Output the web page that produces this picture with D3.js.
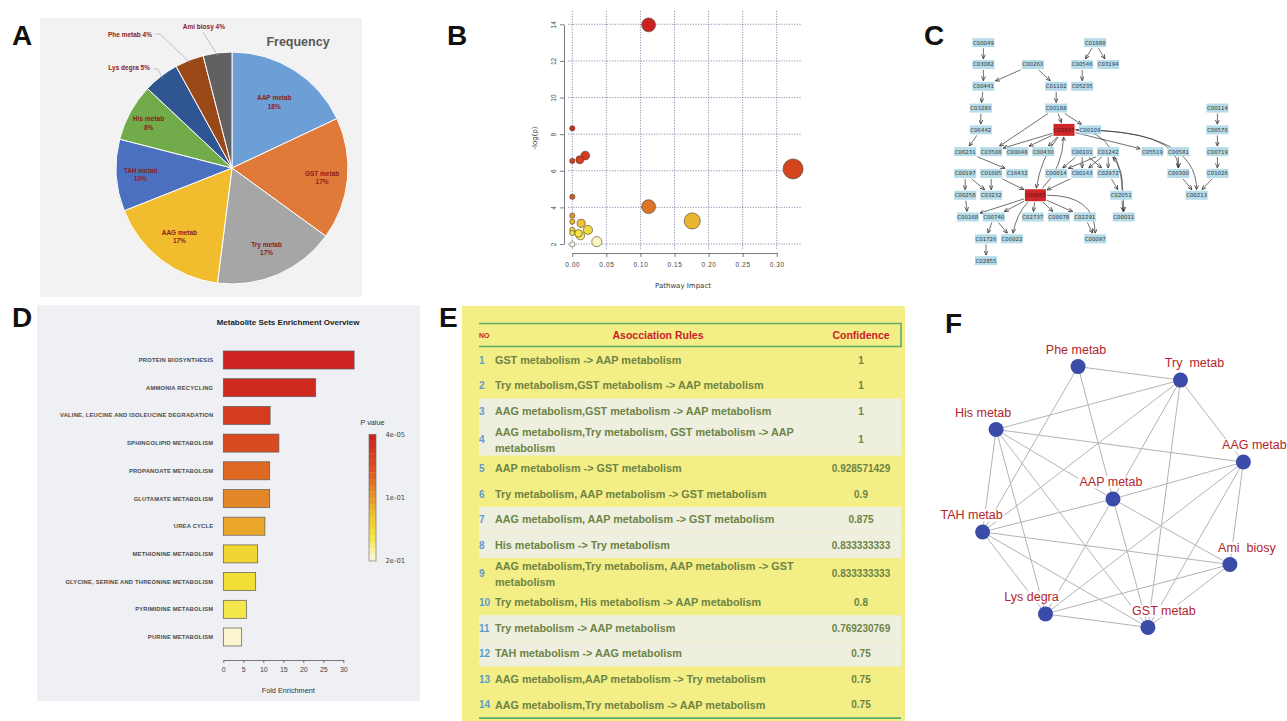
<!DOCTYPE html>
<html>
<head>
<meta charset="utf-8">
<script src="https://cdnjs.cloudflare.com/ajax/libs/d3/7.8.5/d3.min.js"></script>
<style>
  body { margin: 0; background: #fff; }
  svg { display: block; font-family: "Liberation Sans", Arial, sans-serif; }
</style>
</head>
<body>
<svg id="fig" width="1287" height="721"></svg>
<script>
// ---------------- data ----------------
// A: frequency pie
var pieLabels = ["AAP metab", "GST metab", "Try metab", "AAG metab", "TAH metab", "His metab", "Lys degra", "Phe metab", "Ami biosy"];
var piePercents = [18, 17, 17, 17, 10, 8, 5, 4, 4];

// B: pathway impact vs -log(p)
var pathImpact = [0.112, 0, 0, 0.011, 0.019, 0.324, 0, 0.112, 0.176, 0, 0, 0.013, 0, 0, 0.009, 0.023, 0.012, 0.036, 0];
var negLogP    = [13.97, 8.32, 6.54, 6.6, 6.83, 6.1, 4.58, 4.04, 3.26, 3.55, 3.22, 3.13, 2.77, 2.6, 2.58, 2.77, 2.45, 2.13, 1.98];
var bYTicks = [2, 4, 6, 8, 10, 12, 14];
var bXTicks = [0, 0.05, 0.10, 0.15, 0.20, 0.25, 0.30];

// C: compound network (layout units: col 0-100, row 0-10)
var cNodes = [
  ["C00049", 9, 0], ["C01888", 52, 0],
  ["C03082", 9, 1], ["C00263", 28, 1], ["C00546", 47, 1], ["C03194", 57, 1],
  ["C00441", 9, 2], ["C01102", 37, 2], ["C05235", 47, 2],
  ["C03283", 8, 3], ["C00188", 37, 3], ["C00114", 99, 3],
  ["C06442", 8, 4], ["C00037", 40, 4], ["C00109", 50, 4], ["C00576", 99, 4],
  ["C06231", 2, 5], ["C03508", 12, 5], ["C00048", 22, 5], ["C00430", 32, 5], ["C00101", 47, 5],
  ["C01242", 57, 5], ["C05519", 74, 5], ["C00581", 84, 5], ["C00719", 99, 5],
  ["C00197", 2, 6], ["C01005", 12, 6], ["C16432", 22, 6], ["C00014", 37, 6], ["C00143", 47, 6],
  ["C02972", 57, 6], ["C00300", 84, 6], ["C01026", 99, 6],
  ["C00258", 2, 7], ["C03232", 12, 7], ["C00065", 29, 7], ["C02051", 62, 7], ["C00213", 91, 7],
  ["C00168", 3, 8], ["C00740", 13, 8], ["C02737", 28, 8], ["C00078", 38, 8], ["C02291", 48, 8], ["C00011", 63, 8],
  ["C01726", 10, 9], ["C00022", 20, 9], ["C00097", 52, 9],
  ["C02855", 10, 10]
];
var cHighlighted = ["C00037", "C00065"];
// third field: curve ("e" = elbow curve, number = slight bend)
var cEdges = [
  ["C00049", "C03082"], ["C03082", "C00441"], ["C00263", "C00441"], ["C00263", "C01102"],
  ["C01888", "C00546"], ["C01888", "C03194"], ["C00546", "C05235"], ["C00441", "C03283"],
  ["C01102", "C00188"], ["C03283", "C06442"], ["C00188", "C00037"], ["C00188", "C00109"],
  ["C00188", "C03508"], ["C06442", "C06231"], ["C00037", "C03508"], ["C00037", "C00048"],
  ["C00037", "C00430"], ["C00037", "C05519"], ["C00037", "C00213", "e"], ["C00037", "C00011", "e"],
  ["C00037", "C00300", "e"],
  ["C00037", "C00065", 10], ["C00065", "C00037", 14], ["C06231", "C16432"],
  ["C00101", "C00014"], ["C00101", "C00143"], ["C00101", "C02972"],
  ["C01242", "C00014"], ["C01242", "C00143"], ["C01242", "C02972"],
  ["C00114", "C00576"], ["C00576", "C00719"], ["C00719", "C01026"], ["C00581", "C00300"],
  ["C00300", "C00213"], ["C01026", "C00213"],
  ["C00197", "C00258"], ["C00197", "C03232"], ["C01005", "C03232"], ["C01005", "C00065"],
  ["C00143", "C00065"], ["C02972", "C02051"], ["C02051", "C00011"], ["C02051", "C01242", 10],
  ["C00258", "C00168"], ["C00065", "C00168"], ["C00065", "C00740"], ["C00065", "C00022", 8],
  ["C00065", "C02737"], ["C00065", "C00078"], ["C00065", "C02291"], ["C00065", "C00097", "e"],
  ["C00740", "C01726"], ["C00740", "C00022"], ["C02291", "C00097"], ["C01726", "C02855"]
];

// D: metabolite set enrichment
var setNames = ["PROTEIN BIOSYNTHESIS", "AMMONIA RECYCLING", "VALINE, LEUCINE AND ISOLEUCINE DEGRADATION",
  "SPHINGOLIPID METABOLISM", "PROPANOATE METABOLISM", "GLUTAMATE METABOLISM", "UREA CYCLE",
  "METHIONINE METABOLISM", "GLYCINE, SERINE AND THREONINE METABOLISM", "PYRIMIDINE METABOLISM", "PURINE METABOLISM"];
var foldEnrichment = [32.7, 23.1, 11.7, 13.9, 11.6, 11.6, 10.4, 8.6, 8.1, 5.8, 4.6];
var setPValues = [0.003, 0.01, 0.03, 0.045, 0.07, 0.09, 0.11, 0.145, 0.155, 0.165, 0.195];
var dXTicks = [0, 5, 10, 15, 20, 25, 30];
var legendTicks = [[0.00004, "4e-05"], [0.1, "1e-01"], [0.2, "2e-01"]];

// E: association rules
var ruleTexts = [
  "GST metabolism -> AAP metabolism",
  "Try metabolism,GST metabolism -> AAP metabolism",
  "AAG metabolism,GST metabolism -> AAP metabolism",
  "AAG metabolism,Try metabolism, GST metabolism -> AAP metabolism",
  "AAP metabolism -> GST metabolism",
  "Try metabolism, AAP metabolism -> GST metabolism",
  "AAG metabolism, AAP metabolism -> GST metabolism",
  "His metabolism -> Try metabolism",
  "AAG metabolism,Try metabolism, AAP metabolism -> GST metabolism",
  "Try metabolism, His metabolism -> AAP metabolism",
  "Try metabolism -> AAP metabolism",
  "TAH metabolism -> AAG metabolism",
  "AAG metabolism,AAP metabolism -> Try metabolism",
  "AAG metabolism,Try metabolism -> AAP metabolism"
];
var ruleConfidence = ["1", "1", "1", "1", "0.928571429", "0.9", "0.875", "0.833333333", "0.833333333",
  "0.8", "0.769230769", "0.75", "0.75", "0.75"];

// F: metabolism association network
var ringNodes = ["Phe metab", "Try  metab", "AAG metab", "Ami  biosy", "GST metab", "Lys degra", "TAH metab", "His metab"];
var hubNode = "AAP metab";
var netEdges = [
  ["Phe metab", "Try  metab"], ["Phe metab", "TAH metab"], ["Phe metab", "AAP metab"],
  ["Try  metab", "His metab"], ["Try  metab", "TAH metab"], ["Try  metab", "AAP metab"],
  ["Try  metab", "GST metab"], ["Try  metab", "AAG metab"],
  ["His metab", "AAG metab"], ["His metab", "AAP metab"], ["His metab", "TAH metab"],
  ["His metab", "Lys degra"], ["His metab", "GST metab"],
  ["AAG metab", "AAP metab"], ["AAG metab", "Lys degra"], ["AAG metab", "GST metab"], ["AAG metab", "Ami  biosy"],
  ["AAP metab", "TAH metab"], ["AAP metab", "Lys degra"], ["AAP metab", "GST metab"], ["AAP metab", "Ami  biosy"],
  ["TAH metab", "Ami  biosy"], ["TAH metab", "Lys degra"], ["TAH metab", "GST metab"],
  ["Lys degra", "Ami  biosy"], ["Lys degra", "GST metab"], ["Ami  biosy", "GST metab"]
];

// ---------------- drawing ----------------
var svg = d3.select("#fig");
var defs = svg.append("defs");

// panel letters
[["A", 12, 45], ["B", 447, 45], ["C", 924, 45], ["D", 12, 327], ["E", 439, 327], ["F", 945, 333]].forEach(function(p) {
  svg.append("text").attr("x", p[1]).attr("y", p[2]).text(p[0])
    .attr("font-size", 28).attr("font-weight", "bold").attr("fill", "#111");
});

// ===== A: pie =====
(function() {
  var g = svg.append("g");
  g.append("rect").attr("x", 40).attr("y", 18).attr("width", 322).attr("height", 279).attr("fill", "#f2f2f2");
  var pieColors = ["#6d9fd7", "#e07a38", "#a6a6a6", "#f1bd2e", "#4b70c0", "#72ab4a", "#2f5693", "#9b4818", "#616161"];
  var cx = 232, cy = 168, r = 116;
  var arcs = d3.pie().sort(null).value(function(d) { return d; })(piePercents);
  var arc = d3.arc().innerRadius(0).outerRadius(r);
  var pg = g.append("g").attr("transform", "translate(" + cx + "," + cy + ")");
  pg.selectAll("path").data(arcs).enter().append("path")
    .attr("d", arc).attr("fill", function(d, i) { return pieColors[i]; })
    .attr("stroke", "#fff").attr("stroke-width", 1);

  var labelFactor = [0.68, 0.78, 0.75, 0.74, 0.79, 0.82];
  // outside label anchors (relative to pie centre) and leader elbows
  var outside = { 6: { at: [-82, -100], elbow: [-74, -99] },
                  7: { at: [-80, -133], elbow: [-72, -134] },
                  8: { at: [-7, -141], elbow: [-29, -136] } };
  arcs.forEach(function(d, i) {
    if (i < 6) {
      var lr = r * labelFactor[i];
      var c = d3.arc().innerRadius(lr).outerRadius(lr).centroid(d);
      var t = pg.append("text").attr("text-anchor", "middle").attr("fill", "#8e1b1b")
        .attr("font-size", 6.5).attr("font-weight", "bold");
      t.append("tspan").attr("x", c[0]).attr("y", c[1] - 1).text(pieLabels[i]);
      t.append("tspan").attr("x", c[0]).attr("y", c[1] + 7.5).text(d.data + "%");
    } else {
      var o = outside[i];
      var edge = d3.arc().innerRadius(r - 3).outerRadius(r - 3).centroid(d);
      var pts = i === 8 ? [o.elbow, edge] : [[o.at[0] + 3, o.elbow[1]], o.elbow, edge];
      pg.append("polyline").attr("points", pts.map(function(p) { return p.join(","); }).join(" "))
        .attr("fill", "none").attr("stroke", "#a0a0a0").attr("stroke-width", 0.6);
      pg.append("text").attr("x", o.at[0]).attr("y", o.at[1]).attr("text-anchor", "end")
        .attr("fill", "#8e1b1b").attr("font-size", 6.5).attr("font-weight", "bold")
        .attr("dy", "0.35em").text(pieLabels[i] + " " + d.data + "%");
    }
  });
  g.append("text").attr("x", 298).attr("y", 46).attr("text-anchor", "middle")
    .attr("font-size", 12.5).attr("font-weight", "bold").attr("fill", "#595959").text("Frequency");
})();

// ===== B: pathway impact scatter =====
(function() {
  var g = svg.append("g").attr("font-family", "'DejaVu Sans', sans-serif");
  var x = d3.scaleLinear().domain([0, 0.30]).range([572.3, 776.7]);
  var y = d3.scaleLinear().domain([2, 14]).range([244, 24.3]);
  var rScale = d3.scaleSqrt().domain([0, 0.324]).range([2.6, 10]);
  var col = d3.scaleLinear()
    .domain([1.98, 2.2, 2.6, 3.2, 3.6, 4.5, 6.2, 8, 14])
    .range(["#fffff2", "#f7f0a8", "#f3e244", "#ebbd30", "#e0902a", "#d8581f", "#d4441e", "#cf2a1e", "#cc1f1f"]);

  var grid = g.append("g").attr("stroke", "#5f6690").attr("stroke-width", 0.7).attr("stroke-dasharray", "1.2,1.4");
  bYTicks.forEach(function(v) { grid.append("line").attr("x1", 568).attr("x2", 802).attr("y1", y(v)).attr("y2", y(v)); });
  bXTicks.forEach(function(v) { grid.append("line").attr("x1", x(v)).attr("x2", x(v)).attr("y1", 11).attr("y2", 249); });

  var ya = g.append("g").attr("transform", "translate(564,0)")
    .call(d3.axisLeft(y).tickValues(bYTicks).tickSize(4).tickSizeOuter(0).tickFormat(d3.format("d")));
  ya.selectAll("text").attr("transform", "rotate(-90)").attr("x", 0).attr("y", -8).attr("dy", 0)
    .attr("text-anchor", "middle").attr("font-size", 6.5).attr("fill", "#444");
  var xa = g.append("g").attr("transform", "translate(0,253)")
    .call(d3.axisBottom(x).tickValues(bXTicks).tickSize(4).tickSizeOuter(0).tickFormat(d3.format(".2f")));
  xa.selectAll("text").attr("font-size", 6.5).attr("fill", "#444").attr("letter-spacing", 0.6).attr("y", 9);
  g.selectAll(".domain, .tick line").attr("stroke", "#444").attr("stroke-width", 0.7);

  g.append("text").attr("x", 683).attr("y", 288).attr("text-anchor", "middle").attr("font-size", 7).attr("fill", "#333").text("Pathway Impact");
  g.append("text").attr("transform", "translate(537,138) rotate(-90)").attr("text-anchor", "middle")
    .attr("font-size", 7).attr("fill", "#333").text("-log(p)");

  var pts = pathImpact.map(function(v, i) { return { x: v, y: negLogP[i] }; })
    .sort(function(a, b) { return rScale(b.x) - rScale(a.x); });
  g.selectAll("circle.pt").data(pts).enter().append("circle").attr("class", "pt")
    .attr("cx", function(d) { return x(d.x); }).attr("cy", function(d) { return y(d.y); })
    .attr("r", function(d) { return rScale(d.x); })
    .attr("fill", function(d) { return col(d.y); })
    .attr("stroke", "#4a3a30").attr("stroke-width", 0.6);
})();

// ===== C: compound network =====
(function() {
  var g = svg.append("g").attr("font-family", "'DejaVu Sans', sans-serif");
  var x = d3.scaleLinear().domain([0, 100]).range([960, 1220]);
  var y = d3.scaleLinear().domain([0, 10]).range([42.7, 260.6]);
  defs.append("marker").attr("id", "arrC").attr("viewBox", "0 -3 6 6").attr("refX", 6).attr("refY", 0)
    .attr("markerUnits", "userSpaceOnUse").attr("markerWidth", 4.5).attr("markerHeight", 4.5).attr("orient", "auto")
    .append("path").attr("d", "M0,-2.6L6,0L0,2.6").attr("fill", "none").attr("stroke", "#333").attr("stroke-width", 1);

  var pos = {};
  cNodes.forEach(function(n) {
    var hi = cHighlighted.indexOf(n[0]) >= 0;
    pos[n[0]] = { x: x(n[1]), y: y(n[2]), hw: hi ? 10.5 : 11, hh: hi ? 6 : 4.5 };
  });
  function clip(fx, fy, t) {
    var dx = fx - t.x, dy = fy - t.y;
    var s = Math.min((t.hw + 1) / Math.abs(dx || 1e-6), (t.hh + 1) / Math.abs(dy || 1e-6));
    return [t.x + dx * s, t.y + dy * s];
  }
  var eg = g.append("g").attr("fill", "none").attr("stroke", "#333").attr("stroke-width", 0.7);
  cEdges.forEach(function(e) {
    var s = pos[e[0]], t = pos[e[1]], bend = e[2] || 0;
    if (!bend) {
      var a = clip(t.x, t.y, s), b = clip(s.x, s.y, t);
      eg.append("line").attr("x1", a[0]).attr("y1", a[1]).attr("x2", b[0]).attr("y2", b[1]).attr("marker-end", "url(#arrC)");
    } else {
      var qx, qy;
      if (bend === "e") { qx = t.x; qy = s.y; }
      else {
        var dx = t.x - s.x, dy = t.y - s.y, len = Math.sqrt(dx * dx + dy * dy);
        qx = (s.x + t.x) / 2 + (-dy / len) * bend; qy = (s.y + t.y) / 2 + (dx / len) * bend;
      }
      var a2 = clip(qx, qy, s), b2 = clip(qx, qy, t);
      eg.append("path").attr("d", "M" + a2 + "Q" + qx + "," + qy + " " + b2).attr("marker-end", "url(#arrC)");
    }
  });
  var ng = g.selectAll("g.cn").data(cNodes).enter().append("g").attr("class", "cn")
    .attr("transform", function(d) { return "translate(" + pos[d[0]].x + "," + pos[d[0]].y + ")"; });
  ng.append("rect")
    .attr("x", function(d) { return -pos[d[0]].hw; }).attr("y", function(d) { return -pos[d[0]].hh; })
    .attr("width", function(d) { return pos[d[0]].hw * 2; }).attr("height", function(d) { return pos[d[0]].hh * 2; })
    .attr("fill", function(d) { return cHighlighted.indexOf(d[0]) >= 0 ? "#d0282a" : "#b6dbe9"; });
  ng.append("text").attr("text-anchor", "middle").attr("dy", "0.36em").attr("font-size", 5.4)
    .attr("fill", function(d) { return cHighlighted.indexOf(d[0]) >= 0 ? "#5a1010" : "#333"; })
    .text(function(d) { return d[0]; });
})();

// ===== D: enrichment bars =====
(function() {
  var g = svg.append("g");
  g.append("rect").attr("x", 37).attr("y", 305).attr("width", 383).attr("height", 396).attr("fill", "#eef0f4");
  var x = d3.scaleLinear().domain([0, 30]).range([223.3, 343.3]);
  var y = d3.scaleBand().domain(setNames).range([346.15, 650.85]).paddingInner(0.35).paddingOuter(0.175);
  var col = d3.scaleLinear().domain([0.00004, 0.06, 0.1, 0.13, 0.16, 0.2])
    .range(["#cc1f1f", "#dc5a20", "#e6962a", "#efc52e", "#f2e436", "#fdf9e4"]);

  g.append("text").attr("x", 288).attr("y", 324.5).attr("text-anchor", "middle").attr("font-size", 8)
    .attr("font-weight", "bold").attr("fill", "#222").text("Metabolite Sets Enrichment Overview");

  g.selectAll("rect.bar").data(setNames).enter().append("rect").attr("class", "bar")
    .attr("x", x(0)).attr("y", function(d) { return y(d); })
    .attr("width", function(d, i) { return x(foldEnrichment[i]) - x(0); })
    .attr("height", y.bandwidth())
    .attr("fill", function(d, i) { return col(setPValues[i]); })
    .attr("stroke", "#5a5a5a").attr("stroke-width", 0.7);
  g.selectAll("text.lab").data(setNames).enter().append("text").attr("class", "lab")
    .attr("x", 213.3).attr("y", function(d) { return y(d) + y.bandwidth() / 2; })
    .attr("dy", "0.35em").attr("text-anchor", "end").attr("font-size", 5.8).attr("font-weight", "bold")
    .attr("fill", "#4a4a4a").attr("letter-spacing", 0.2).text(function(d) { return d; });

  var xa = g.append("g").attr("transform", "translate(0,660)")
    .call(d3.axisBottom(x).tickValues(dXTicks).tickSize(3).tickSizeOuter(0));
  xa.selectAll("text").attr("font-size", 7).attr("fill", "#444").attr("y", 7);
  xa.selectAll(".domain, .tick line").attr("stroke", "#444").attr("stroke-width", 0.7);
  g.append("text").attr("x", 288.3).attr("y", 693).attr("text-anchor", "middle").attr("font-size", 7.3)
    .attr("fill", "#333").text("Fold Enrichment");

  // p-value legend
  var ly = d3.scaleLinear().domain([0.00004, 0.2]).range([434.3, 561]);
  var steps = d3.range(20).map(function(i) { return 0.00004 + (0.2 - 0.00004) * i / 20; });
  var stepH = (561 - 434.3) / 20;
  g.selectAll("rect.leg").data(steps).enter().append("rect").attr("class", "leg")
    .attr("x", 369).attr("y", function(d) { return ly(d); }).attr("width", 7).attr("height", stepH + 0.3)
    .attr("fill", function(d) { return col(d + (0.2 - 0.00004) / 40); });
  g.append("rect").attr("x", 369).attr("y", 434.3).attr("width", 7).attr("height", 126.7)
    .attr("fill", "none").attr("stroke", "#666").attr("stroke-width", 0.6);
  g.append("text").attr("x", 372.5).attr("y", 425).attr("text-anchor", "middle").attr("font-size", 7.3)
    .attr("fill", "#333").text("P value");
  legendTicks.forEach(function(t) {
    g.append("text").attr("x", 385.5).attr("y", ly(t[0])).attr("dy", "0.35em").attr("font-size", 6.8)
      .attr("font-family", "'DejaVu Sans', sans-serif").attr("fill", "#444").text(t[1]);
  });
})();

// ===== E: association rules table =====
(function() {
  var g = svg.append("g");
  g.append("rect").attr("x", 462).attr("y", 306).attr("width", 443).attr("height", 415).attr("fill", "#f4ee86");
  var left = 479, right = 901, top = 347.2, maxW = 320;
  var green = "#5aac6c";
  g.append("path").attr("d", "M" + left + ",323.5H" + right + "V346.5H" + left)
    .attr("fill", "none").attr("stroke", green).attr("stroke-width", 1.6);
  g.append("text").attr("x", 479).attr("y", 338).attr("font-size", 7).attr("font-weight", "bold").attr("fill", "#c8202c").text("NO");
  g.append("text").attr("x", 658).attr("y", 339).attr("text-anchor", "middle").attr("font-size", 10.5).attr("font-weight", "bold").attr("fill", "#c8202c").text("Asocciation Rules");
  g.append("text").attr("x", 861).attr("y", 339).attr("text-anchor", "middle").attr("font-size", 10.5).attr("font-weight", "bold").attr("fill", "#c8202c").text("Confidence");

  var bandG = g.append("g"), textG = g.append("g");
  var rowTop = top;
  ruleTexts.forEach(function(rule, i) {
    var t = textG.append("text").attr("font-size", 10.8).attr("font-weight", "bold").attr("fill", "#6c8444");
    var words = rule.split(" "), lines = [], cur = [];
    var probe = t.append("tspan");
    words.forEach(function(w) {
      var test = cur.concat([w]).join(" ");
      probe.text(test);
      if (probe.node().getComputedTextLength() > maxW && cur.length) { lines.push(cur.join(" ")); cur = [w]; }
      else cur.push(w);
    });
    lines.push(cur.join(" "));
    probe.remove();
    var h = lines.length > 1 ? 31.6 : 25.6;
    var mid = rowTop + h / 2;
    if (Math.floor(i / 2) % 2 === 1) {
      bandG.append("rect").attr("x", left).attr("y", rowTop).attr("width", right - left).attr("height", h).attr("fill", "#eeefdf");
    }
    lines.forEach(function(l, k) {
      t.append("tspan").attr("x", 495).attr("y", mid + (k - (lines.length - 1) / 2) * 16).attr("dy", "0.35em").text(l);
    });
    textG.append("text").attr("x", 479).attr("y", mid).attr("dy", "0.35em").attr("font-size", 10)
      .attr("font-weight", "bold").attr("fill", "#5f9bd0").text(i + 1);
    textG.append("text").attr("x", 861).attr("y", mid).attr("dy", "0.35em").attr("text-anchor", "middle")
      .attr("font-size", 10).attr("font-weight", "bold").attr("fill", "#6c8444").text(ruleConfidence[i]);
    rowTop += h;
  });
  g.append("line").attr("x1", left).attr("x2", right).attr("y1", rowTop + 0.5).attr("y2", rowTop + 0.5)
    .attr("stroke", green).attr("stroke-width", 1.6);
})();

// ===== F: metabolism network (circular layout around hub) =====
(function() {
  var g = svg.append("g");
  var cx = 1113, cy = 497, R = 135;
  var angle = d3.scaleLinear().domain([0, ringNodes.length]).range([-105, 255]);
  var pos = {};
  ringNodes.forEach(function(n, i) {
    var a = angle(i) * Math.PI / 180;
    pos[n] = [cx + R * Math.cos(a), cy + R * Math.sin(a)];
  });
  pos[hubNode] = [cx, cy + 2];
  var labelDx = { "Phe metab": -2, "Try  metab": 14, "AAG metab": 11, "Ami  biosy": 17, "GST metab": 16,
    "Lys degra": -14, "TAH metab": -11, "His metab": -13, "AAP metab": -2 };

  g.selectAll("line").data(netEdges).enter().append("line")
    .attr("x1", function(d) { return pos[d[0]][0]; }).attr("y1", function(d) { return pos[d[0]][1]; })
    .attr("x2", function(d) { return pos[d[1]][0]; }).attr("y2", function(d) { return pos[d[1]][1]; })
    .attr("stroke", "#b4b4b4").attr("stroke-width", 1);

  var all = ringNodes.concat([hubNode]);
  var lg = g.append("g");
  all.forEach(function(n) {
    var p = pos[n];
    var t = lg.append("text").attr("x", p[0] + labelDx[n]).attr("y", p[1] - 17).attr("dy", "0.35em")
      .attr("text-anchor", "middle").attr("font-size", 12.5).attr("fill", "#b3262c")
      .style("white-space", "pre").text(n);
    var bb = t.node().getBBox();
    lg.insert("rect", "text").attr("x", bb.x - 1).attr("y", bb.y + 1).attr("width", bb.width + 2).attr("height", bb.height - 2)
      .attr("fill", "#fff");
  });
  g.selectAll("circle").data(all).enter().append("circle")
    .attr("cx", function(d) { return pos[d][0]; }).attr("cy", function(d) { return pos[d][1]; })
    .attr("r", 7.5).attr("fill", "#3a4ca8");
})();
</script>
</body>
</html>
